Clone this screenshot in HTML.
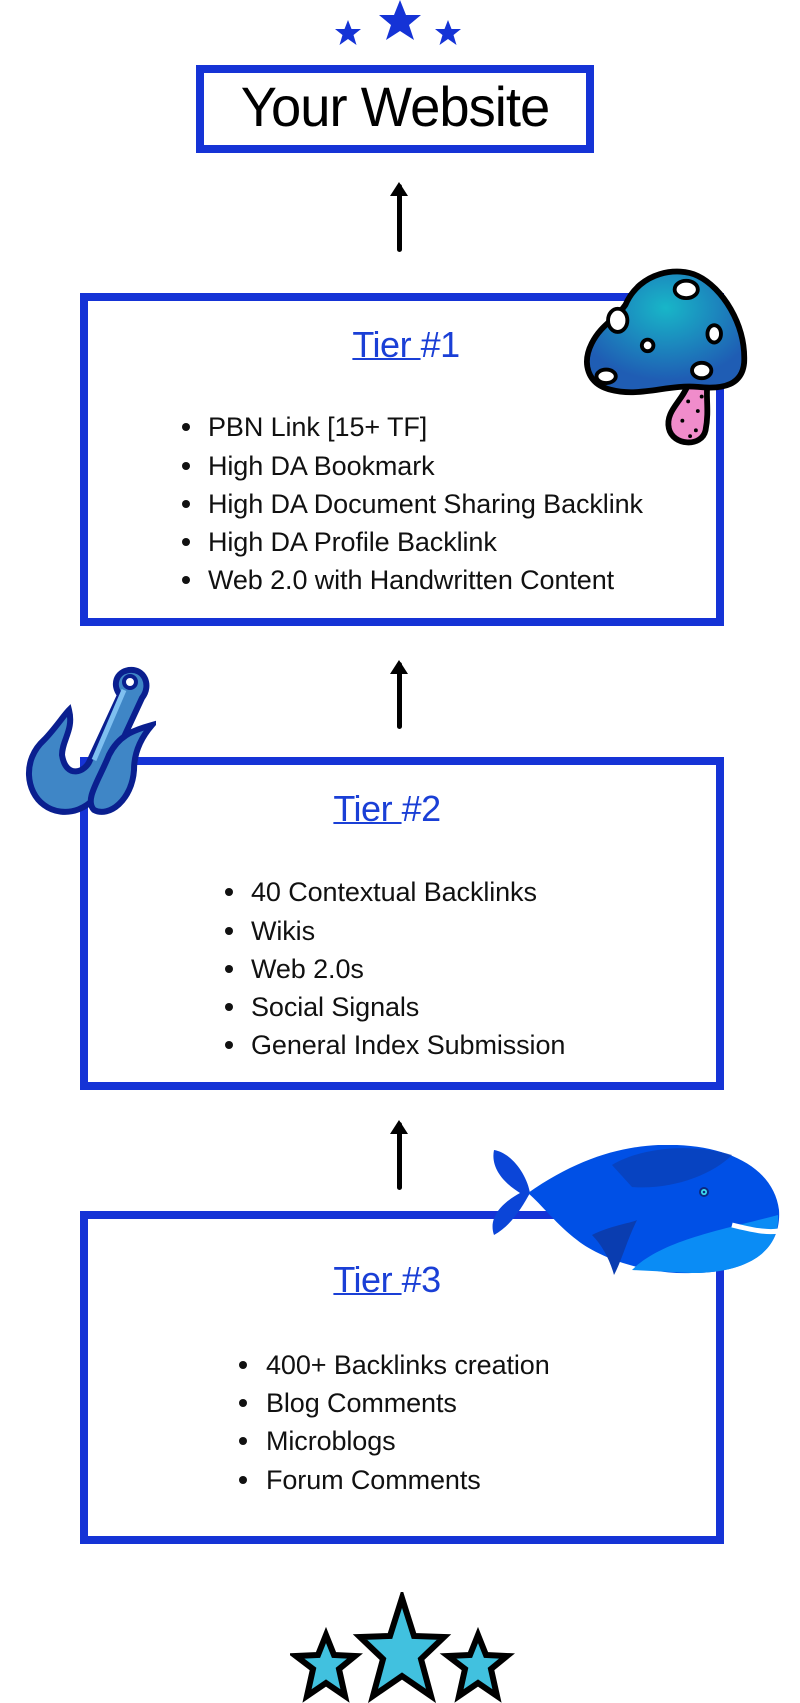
<!DOCTYPE html>
<html><head><meta charset="utf-8"><style>
html,body{margin:0;padding:0;background:#fff}
body{width:800px;height:1703px;position:relative;overflow:hidden;font-family:"Liberation Sans",sans-serif}
.box{position:absolute;border:8px solid #1533d6;box-sizing:border-box}
.h{position:absolute;left:0;width:800px;text-align:center;font-size:36px;color:#1a3fd6;letter-spacing:-0.5px;line-height:40px}
.h u{text-decoration:underline;text-decoration-thickness:2px}
.li{position:absolute;font-size:27px;color:#111;letter-spacing:-0.1px;line-height:30px;white-space:nowrap}
.dot{position:absolute;width:8px;height:8px;border-radius:50%;background:#111}
.arrow{position:absolute;width:5px;background:#000;border-radius:3px}
.arrow:before{content:"";position:absolute;left:-7px;top:-2px;border-left:9.5px solid transparent;border-right:9.5px solid transparent;border-bottom:14px solid #000}
svg{position:absolute}
</style></head><body>

<!-- top stars -->
<svg style="left:330px;top:0" width="140" height="50" viewBox="0 0 140 50">
<g fill="#1533d6">
<polygon points="18,20 21.5,29 31,29 23.5,35 26.5,45 18,39 9.5,45 12.5,35 5,29 14.5,29"/>
<polygon points="70,0 76,15 91,15 79,25 84,40 70,31 56,40 61,25 49,15 64,15"/>
<polygon points="118,20 121.5,29 131,29 123.5,35 126.5,45 118,39 109.5,45 112.5,35 105,29 114.5,29"/>
</g></svg>

<div class="box" style="left:196px;top:65px;width:398px;height:88px"></div>
<div style="position:absolute;left:196px;top:75px;width:398px;text-align:center;font-size:56px;line-height:64px;color:#000;transform:scaleX(0.97);letter-spacing:-1px">Your Website</div>

<div class="arrow" style="left:397px;top:184px;height:68px"></div>

<!-- Tier 1 -->
<div class="box" style="left:80px;top:293px;width:644px;height:333px"></div>
<div class="h" style="top:325px;left:6px"><u>Tier </u>#1</div>
<div class="dot" style="left:182px;top:423px"></div><div class="li" style="left:208px;top:412px">PBN Link [15+ TF]</div>
<div class="dot" style="left:182px;top:462px"></div><div class="li" style="left:208px;top:451px">High DA Bookmark</div>
<div class="dot" style="left:182px;top:500px"></div><div class="li" style="left:208px;top:489px">High DA Document Sharing Backlink</div>
<div class="dot" style="left:182px;top:538px"></div><div class="li" style="left:208px;top:527px">High DA Profile Backlink</div>
<div class="dot" style="left:182px;top:576px"></div><div class="li" style="left:208px;top:565px">Web 2.0 with Handwritten Content</div>

<!-- mushroom -->
<svg style="left:582px;top:266px" width="166" height="182" viewBox="0 0 172 188">
<defs><radialGradient id="mg" cx="0.5" cy="0.3" r="0.6"><stop offset="0" stop-color="#18b6c8"/><stop offset="1" stop-color="#1f5db4"/></radialGradient></defs>
<path d="M110,122 C104,140 86,150 90,168 C94,186 124,188 128,170 C132,150 128,135 130,122 Z" fill="#f08ccb" stroke="#000" stroke-width="6"/>
<g fill="#000"><circle cx="110" cy="140" r="2"/><circle cx="120" cy="150" r="2"/><circle cx="104" cy="160" r="2"/><circle cx="118" cy="170" r="2"/><circle cx="124" cy="135" r="2"/><circle cx="112" cy="176" r="2"/></g>
<path d="M45,40 C60,5 100,0 120,10 C145,22 170,60 168,100 C166,122 148,128 120,125 C90,122 60,136 30,128 C5,122 0,100 10,80 C20,60 35,55 45,40 Z" fill="url(#mg)" stroke="#000" stroke-width="6"/>
<g fill="#fff" stroke="#000" stroke-width="4"><ellipse cx="108" cy="24" rx="12" ry="9"/><ellipse cx="37" cy="56" rx="10" ry="12"/><circle cx="68" cy="82" r="6"/><ellipse cx="137" cy="70" rx="7" ry="9"/><ellipse cx="124" cy="108" rx="10" ry="8"/><ellipse cx="25" cy="114" rx="10" ry="7"/></g>
</svg>

<div class="arrow" style="left:397px;top:662px;height:67px"></div>

<!-- Tier 2 -->
<div class="box" style="left:80px;top:757px;width:644px;height:333px"></div>
<div class="h" style="top:789px;left:-13px"><u>Tier </u>#2</div>
<div class="dot" style="left:225px;top:888px"></div><div class="li" style="left:251px;top:877px">40 Contextual Backlinks</div>
<div class="dot" style="left:225px;top:927px"></div><div class="li" style="left:251px;top:916px">Wikis</div>
<div class="dot" style="left:225px;top:965px"></div><div class="li" style="left:251px;top:954px">Web 2.0s</div>
<div class="dot" style="left:225px;top:1003px"></div><div class="li" style="left:251px;top:992px">Social Signals</div>
<div class="dot" style="left:225px;top:1041px"></div><div class="li" style="left:251px;top:1030px">General Index Submission</div>

<!-- hook -->
<svg style="left:24px;top:660px" width="132" height="160" viewBox="0 0 132 160">
<path d="M105,10 C120,8 128,25 118,38 L80,120 C72,150 40,160 20,145 C2,132 -2,100 20,80 C30,70 40,55 45,50 C50,70 38,80 38,95 C42,120 62,112 66,100 L96,35 C88,25 92,12 105,10 Z" fill="#3f86c6" stroke="#0a1f8f" stroke-width="6"/>
<path d="M85,95 C95,75 110,70 128,65 C115,80 110,95 110,110 C108,140 85,158 70,150 C60,140 75,120 85,95 Z" fill="#3f86c6" stroke="#0a1f8f" stroke-width="6"/>
<path d="M100,30 L70,100" stroke="#7fc0f0" stroke-width="5" fill="none"/>
<circle cx="106" cy="22" r="6" fill="#fff" stroke="#0a1f8f" stroke-width="4"/>
</svg>

<div class="arrow" style="left:397px;top:1122px;height:68px"></div>

<!-- Tier 3 -->
<div class="box" style="left:80px;top:1211px;width:644px;height:333px"></div>
<div class="h" style="top:1260px;left:-13px"><u>Tier </u>#3</div>
<div class="dot" style="left:239px;top:1361px"></div><div class="li" style="left:266px;top:1350px">400+ Backlinks creation</div>
<div class="dot" style="left:239px;top:1399px"></div><div class="li" style="left:266px;top:1388px">Blog Comments</div>
<div class="dot" style="left:239px;top:1437px"></div><div class="li" style="left:266px;top:1426px">Microblogs</div>
<div class="dot" style="left:239px;top:1476px"></div><div class="li" style="left:266px;top:1465px">Forum Comments</div>

<!-- whale -->
<svg style="left:492px;top:1145px" width="290" height="145" viewBox="0 0 290 145">
<path d="M2,5 C20,8 35,30 38,48 C30,62 20,80 2,90 C-5,70 15,55 28,48 C15,40 -2,25 2,5 Z" fill="#0b45d8"/>
<path d="M36,48 C90,10 140,-2 185,0 C240,2 282,25 287,65 C290,110 250,128 200,128 C160,130 110,115 85,95 C65,80 50,60 36,48 Z" fill="#0050e6"/>
<path d="M120,20 C150,2 200,-2 240,10 C220,30 180,45 140,42 Z" fill="#0a3db0" opacity="0.7"/>
<path d="M140,125 C170,95 230,85 286,70 C288,110 250,128 200,128 Z" fill="#0a8cf5"/>
<path d="M240,80 C260,85 275,88 287,86" stroke="#fff" stroke-width="5" fill="none"/>
<path d="M100,90 C120,80 140,78 145,75 C135,95 130,115 122,130 C118,115 110,100 100,90 Z" fill="#0a3db0"/>
<circle cx="212" cy="47" r="5" fill="#0a2a80"/><circle cx="212" cy="47" r="3" fill="#3ee0f0"/><circle cx="212" cy="47" r="1.3" fill="#0a2a80"/>
</svg>

<!-- bottom stars -->
<svg style="left:290px;top:1592px" width="225" height="111" viewBox="0 0 225 111">
<g fill="#41c1df" stroke="#000" stroke-width="6" stroke-linejoin="miter">
<polygon points="36,43 44,63 65,64 49,77 55,104 36,91 17,104 23,77 6,64 28,63"/>
<polygon points="112,6 124,44 154,45 131,67 141,104 112,84 83,104 93,67 70,45 100,44"/>
<polygon points="188,43 196,63 217,64 201,77 207,104 188,91 169,104 175,77 158,64 180,63"/>
</g></svg>

</body></html>
